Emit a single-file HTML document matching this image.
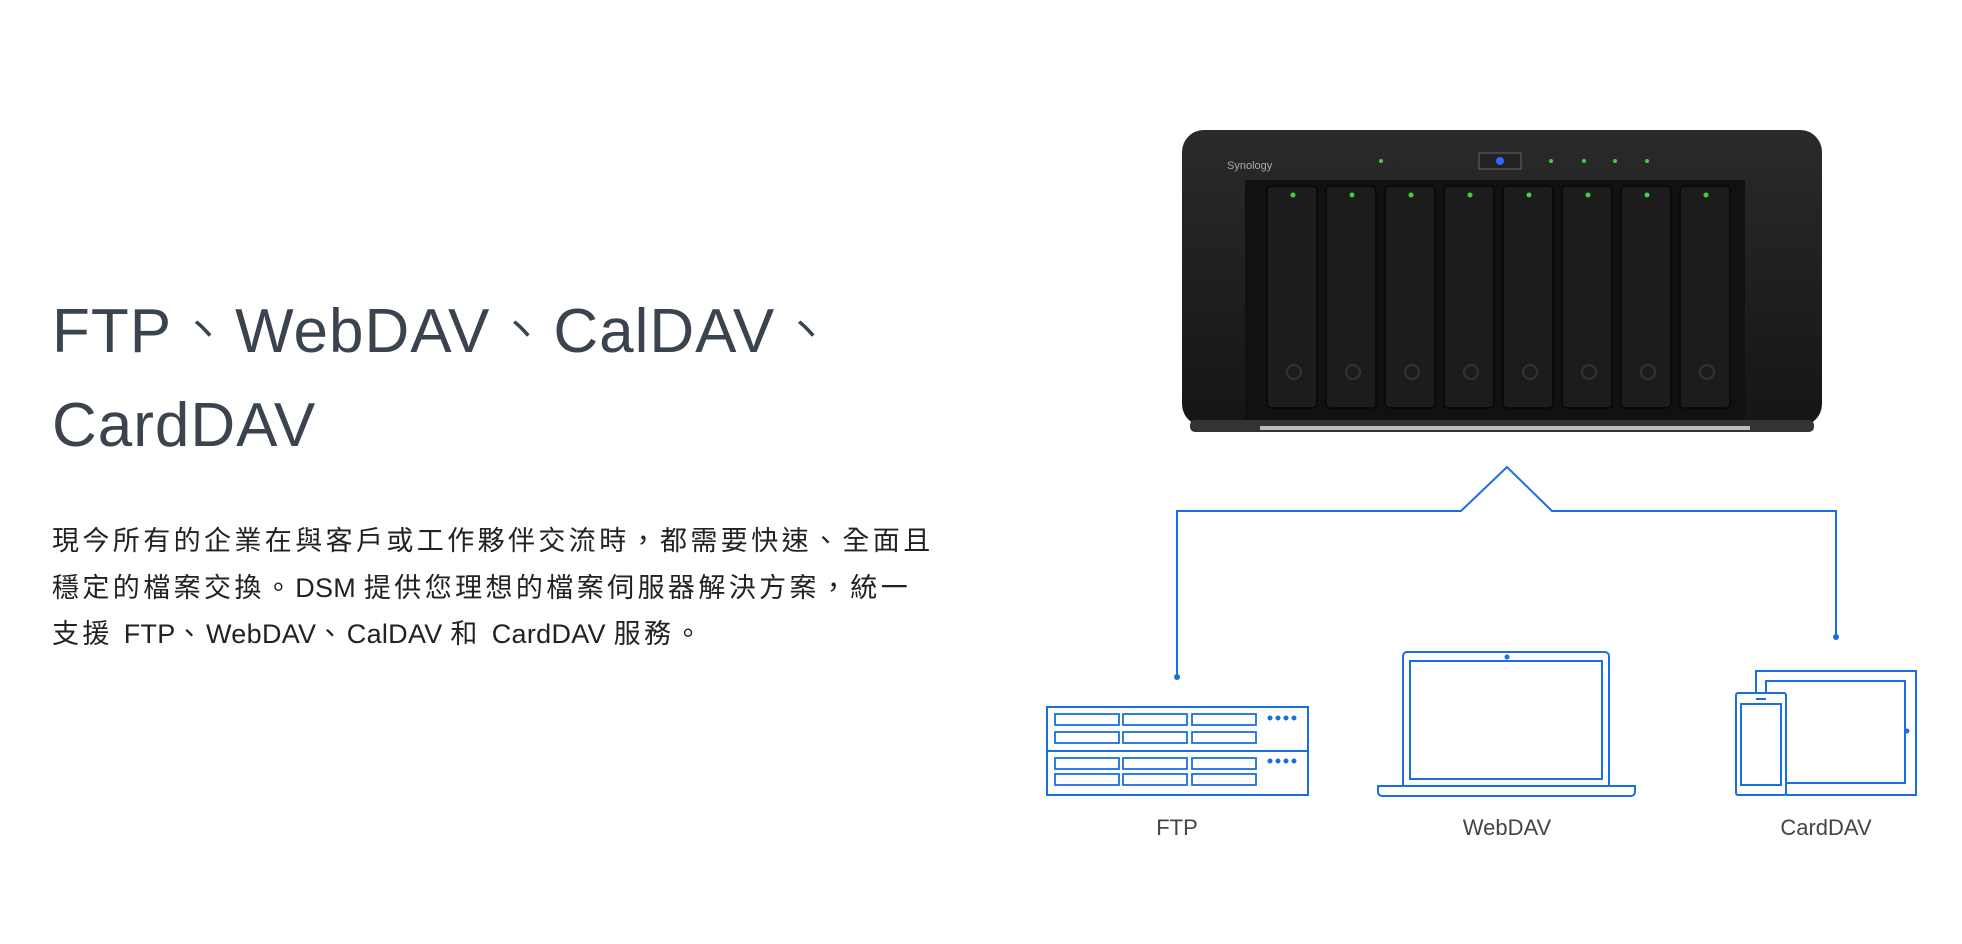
<!DOCTYPE html>
<html><head><meta charset="utf-8"><style>
html,body{margin:0;padding:0;background:#fff;width:1962px;height:944px;overflow:hidden;position:relative}
h1{margin:0;font-weight:300;font-size:62px;line-height:94px;position:absolute;left:52px;top:285px;font-family:"Liberation Sans","Noto Sans CJK TC",sans-serif;color:#3a434e;letter-spacing:1px}
p{margin:0;position:absolute;left:52px;top:518px;width:900px;font-size:27px;line-height:46.5px;letter-spacing:3.4px;font-family:"Liberation Sans","Noto Sans CJK TC",sans-serif;color:#222}
p span{letter-spacing:0.3px}
</style></head><body>
<h1>FTP、WebDAV、CalDAV、<br>CardDAV</h1>
<p>現今所有的企業在與客戶或工作夥伴交流時，都需要快速、全面且<br>穩定的檔案交換。<span>DSM </span>提供您理想的檔案伺服器解決方案，統一<br>支援 <span>FTP</span>、<span>WebDAV</span>、<span>CalDAV </span>和 <span>CardDAV </span>服務。</p>
<svg width="1962" height="944" style="position:absolute;left:0;top:0">
<defs><linearGradient id="g" x1="0" y1="0" x2="0" y2="1"><stop offset="0" stop-color="#2a2a2a"/><stop offset="1" stop-color="#151515"/></linearGradient></defs>
<rect x="1182" y="130" width="640" height="296" rx="22" fill="url(#g)"/>
<rect x="1190" y="420" width="624" height="12" rx="5" fill="#333"/>
<rect x="1260" y="426" width="490" height="4" fill="#bbb"/>
<rect x="1245" y="180" width="500" height="240" fill="#111"/>
<g fill="#1c1c1c" stroke="#0a0a0a" stroke-width="2">
<rect x="1267" y="186" width="50" height="222" rx="4"/><rect x="1326" y="186" width="50" height="222" rx="4"/>
<rect x="1385" y="186" width="50" height="222" rx="4"/><rect x="1444" y="186" width="50" height="222" rx="4"/>
<rect x="1503" y="186" width="50" height="222" rx="4"/><rect x="1562" y="186" width="50" height="222" rx="4"/>
<rect x="1621" y="186" width="50" height="222" rx="4"/><rect x="1680" y="186" width="50" height="222" rx="4"/>
</g>
<g fill="#4c4"><circle cx="1293" cy="195" r="2.5"/><circle cx="1352" cy="195" r="2.5"/><circle cx="1411" cy="195" r="2.5"/><circle cx="1470" cy="195" r="2.5"/><circle cx="1529" cy="195" r="2.5"/><circle cx="1588" cy="195" r="2.5"/><circle cx="1647" cy="195" r="2.5"/><circle cx="1706" cy="195" r="2.5"/>
<circle cx="1381" cy="161" r="2"/><circle cx="1551" cy="161" r="2"/><circle cx="1584" cy="161" r="2"/><circle cx="1615" cy="161" r="2"/><circle cx="1647" cy="161" r="2"/></g>
<g fill="none" stroke="#333" stroke-width="2"><circle cx="1294" cy="372" r="7"/><circle cx="1353" cy="372" r="7"/><circle cx="1412" cy="372" r="7"/><circle cx="1471" cy="372" r="7"/><circle cx="1530" cy="372" r="7"/><circle cx="1589" cy="372" r="7"/><circle cx="1648" cy="372" r="7"/><circle cx="1707" cy="372" r="7"/></g>
<rect x="1479" y="153" width="42" height="16" fill="#222" stroke="#666"/><circle cx="1500" cy="161" r="4" fill="#36f"/>
<text x="1227" y="169" font-size="11" fill="#aaa" font-family="Liberation Sans">Synology</text>
<g fill="none" stroke="#1a6fe0" stroke-width="2">
<path d="M1177 677 V511 H1461 L1507 467 L1552 511 H1836 V637"/>
<rect x="1047" y="707" width="261" height="88"/><line x1="1047" y1="751" x2="1308" y2="751"/>
<g stroke-width="1.8">
<rect x="1055" y="714" width="64" height="11"/><rect x="1123" y="714" width="64" height="11"/><rect x="1192" y="714" width="64" height="11"/>
<rect x="1055" y="732" width="64" height="11"/><rect x="1123" y="732" width="64" height="11"/><rect x="1192" y="732" width="64" height="11"/>
<rect x="1055" y="758" width="64" height="11"/><rect x="1123" y="758" width="64" height="11"/><rect x="1192" y="758" width="64" height="11"/>
<rect x="1055" y="774" width="64" height="11"/><rect x="1123" y="774" width="64" height="11"/><rect x="1192" y="774" width="64" height="11"/>
</g>
<path d="M1403 786 V656 a4 4 0 0 1 4 -4 H1605 a4 4 0 0 1 4 4 V786"/>
<rect x="1410" y="661" width="192" height="118"/>
<path d="M1378 786 H1635 V792 a4 4 0 0 1 -4 4 H1382 a4 4 0 0 1 -4 -4 Z"/>
<path d="M1756 692 V671 H1916 V795 H1786"/>
<path d="M1786 783 H1905 V681 H1766 V692"/>
<rect x="1736" y="693" width="50" height="102" rx="2"/>
<rect x="1741" y="704" width="40" height="81"/>
</g>
<g fill="#1a6fe0">
<circle cx="1177" cy="677" r="3"/><circle cx="1836" cy="637" r="3"/><circle cx="1507" cy="657" r="2.5"/><circle cx="1907" cy="731" r="2.5"/>
<rect x="1756" y="698" width="10" height="2"/>
<circle cx="1270" cy="718" r="2.5"/><circle cx="1278" cy="718" r="2.5"/><circle cx="1286" cy="718" r="2.5"/><circle cx="1294" cy="718" r="2.5"/>
<circle cx="1270" cy="761" r="2.5"/><circle cx="1278" cy="761" r="2.5"/><circle cx="1286" cy="761" r="2.5"/><circle cx="1294" cy="761" r="2.5"/>
</g>
<g font-family="Liberation Sans" font-size="22" fill="#444" text-anchor="middle">
<text x="1177" y="835">FTP</text><text x="1507" y="835">WebDAV</text><text x="1826" y="835">CardDAV</text>
</g>
</svg>
</body></html>
